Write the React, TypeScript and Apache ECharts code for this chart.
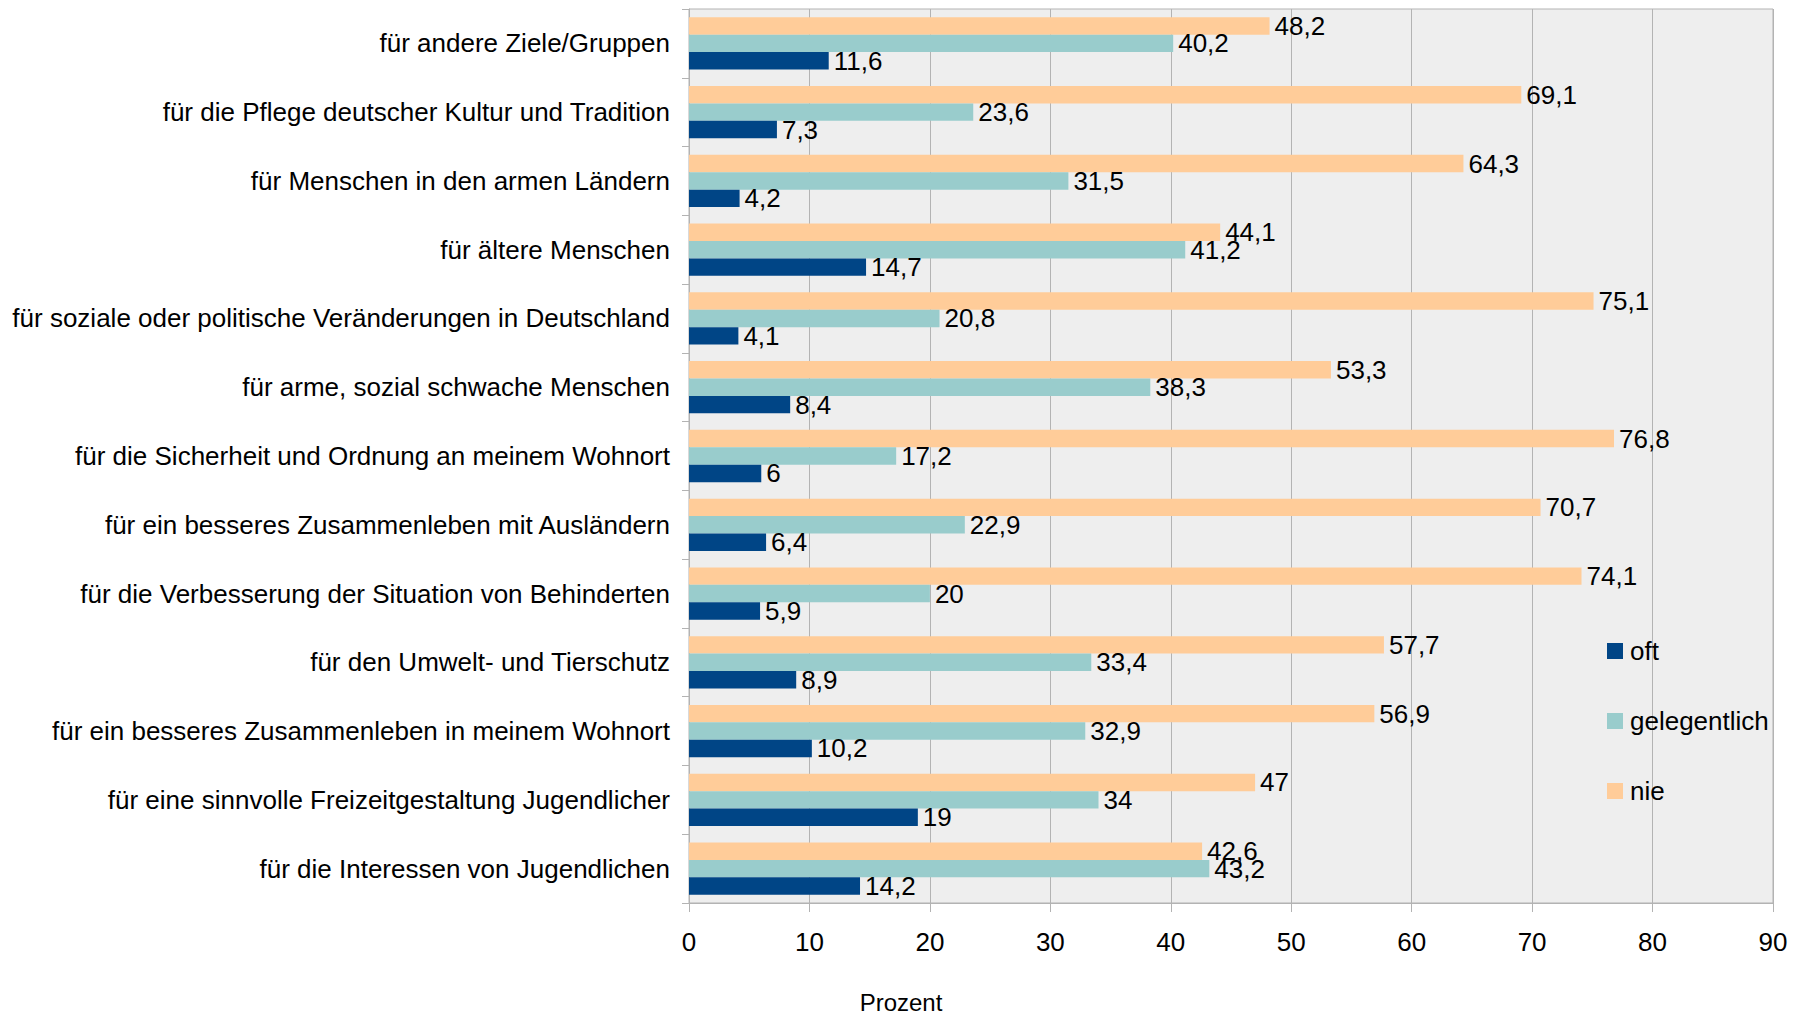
import React, { useEffect, useRef } from "react";
import * as echarts from "echarts";

const categories = [
  "für andere Ziele/Gruppen",
  "für die Pflege deutscher Kultur und Tradition",
  "für Menschen in den armen Ländern",
  "für ältere Menschen",
  "für soziale oder politische Veränderungen in Deutschland",
  "für arme, sozial schwache Menschen",
  "für die Sicherheit und Ordnung an meinem Wohnort",
  "für ein besseres Zusammenleben mit Ausländern",
  "für die Verbesserung der Situation von Behinderten",
  "für den Umwelt- und Tierschutz",
  "für ein besseres Zusammenleben in meinem Wohnort",
  "für eine sinnvolle Freizeitgestaltung Jugendlicher",
  "für die Interessen von Jugendlichen",
];

const oft = [11.6, 7.3, 4.2, 14.7, 4.1, 8.4, 6, 6.4, 5.9, 8.9, 10.2, 19, 14.2];
const gelegentlich = [40.2, 23.6, 31.5, 41.2, 20.8, 38.3, 17.2, 22.9, 20, 33.4, 32.9, 34, 43.2];
const nie = [48.2, 69.1, 64.3, 44.1, 75.1, 53.3, 76.8, 70.7, 74.1, 57.7, 56.9, 47, 42.6];

const xTicks = [0, 10, 20, 30, 40, 50, 60, 70, 80, 90];
const xAxisTitle = "Prozent";

const FONT = "'Liberation Sans', Arial, sans-serif";
const FS = 26;

export default function App() {
  const ref = useRef<HTMLDivElement>(null);
  useEffect(() => {
    document.body.style.margin = "0";
    const chart = echarts.init(ref.current!, null, { renderer: "svg" });
    const label = {
      show: true,
      position: "right" as const,
      distance: 5,
      color: "#000",
      fontFamily: FONT,
      fontSize: FS,
      formatter: (p: any) => String(p.value).replace(".", ","),
    };
    const mk = (name: string, data: number[], color: string) => ({
      name,
      type: "bar",
      data,
      itemStyle: { color },
      label,
      barGap: "0%",
      barCategoryGap: "24%",
    });
    chart.setOption({
      animation: false,
      backgroundColor: "#ffffff",
      textStyle: { fontFamily: FONT },
      grid: {
        left: 689,
        top: 9,
        right: 34,
        bottom: 112,
        show: true,
        backgroundColor: "#eeeeee",
        borderColor: "#b3b3b3",
        borderWidth: 1,
      },
      legend: {
        orient: "vertical",
        left: 1602,
        top: 633,
        itemWidth: 16,
        itemHeight: 16,
        itemGap: 44,
        icon: "rect",
        data: ["oft", "gelegentlich", "nie"],
        textStyle: { fontFamily: FONT, fontSize: FS, color: "#000", padding: [0, 0, 0, 2] },
      },
      xAxis: {
        type: "value",
        min: xTicks[0],
        max: xTicks[xTicks.length - 1],
        interval: 10,
        axisLine: { show: true, lineStyle: { color: "#b3b3b3" } },
        axisTick: { show: true, length: 9, lineStyle: { color: "#b3b3b3" } },
        axisLabel: { color: "#000", fontFamily: FONT, fontSize: FS, margin: 26 },
        splitLine: { show: true, lineStyle: { color: "#b3b3b3" } },
      },
      yAxis: {
        type: "category",
        data: categories,
        inverse: true,
        axisLine: { show: true, lineStyle: { color: "#b3b3b3" } },
        axisTick: { show: true, length: 7, lineStyle: { color: "#b3b3b3" } },
        axisLabel: { color: "#000", fontFamily: FONT, fontSize: FS, margin: 19 },
        splitLine: { show: false },
      },
      graphic: [
        {
          type: "text",
          x: 901,
          y: 1002,
          style: {
            text: xAxisTitle,
            fontFamily: FONT,
            fontSize: 24,
            fill: "#000",
            align: "center",
            verticalAlign: "middle",
          },
        },
      ],
      series: [
        mk("nie", nie, "#ffcc99"),
        mk("gelegentlich", gelegentlich, "#99cccc"),
        mk("oft", oft, "#004586"),
      ],
    });
    return () => chart.dispose();
  }, []);
  return <div ref={ref} style={{ width: 1807, height: 1015 }} />;
}
